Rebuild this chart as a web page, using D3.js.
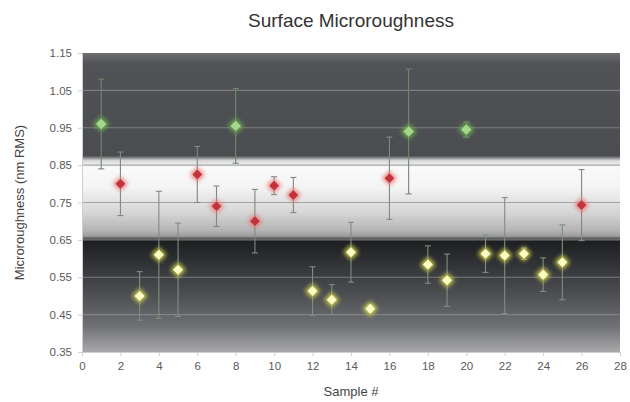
<!DOCTYPE html>
<html><head><meta charset="utf-8">
<script src="https://cdn.jsdelivr.net/npm/d3@7/dist/d3.min.js"></script>
<style>body{margin:0;background:#fff;}svg{display:block;font-family:"Liberation Sans",Arial,sans-serif;}</style>
</head><body><svg id="c" width="630" height="402"></svg>
<script>
const greenX=[1,8,17,20];
const greenY=[0.96,0.955,0.94,0.945];
const greenErr=[0.12,0.10,0.167,0.02];
const redX=[2,6,7,9,10,11,16,26];
const redY=[0.80,0.825,0.74,0.70,0.795,0.77,0.815,0.743];
const redErr=[0.085,0.075,0.054,0.085,0.024,0.047,0.11,0.095];
const yellowX=[3,4,5,12,13,14,15,18,19,21,22,23,24,25];
const yellowY=[0.50,0.61,0.57,0.513,0.49,0.617,0.466,0.584,0.542,0.613,0.608,0.613,0.557,0.59];
const yellowErr=[0.065,0.17,0.125,0.065,0.04,0.08,0.01,0.05,0.07,0.05,0.155,0.015,0.045,0.1];
const yTicks=[0.35,0.45,0.55,0.65,0.75,0.85,0.95,1.05,1.15];
const xTicks=[0,2,4,6,8,10,12,14,16,18,20,22,24,26,28];

const svg=d3.select("#c");
const L=82,R=620,T=53,B=352;
const x=d3.scaleLinear().domain([0,28]).range([L,R]);
const y=d3.scaleLinear().domain([0.35,1.15]).range([B,T]);
const defs=svg.append("defs");

// background gradient (vertical) defined in data-space stops
const bg=defs.append("linearGradient").attr("id","bg").attr("x1",0).attr("y1",0).attr("x2",0).attr("y2",1);
const H=B-T;
function st(v,c){bg.append("stop").attr("offset",((y(v)-T)/H)).attr("stop-color",c);}
st(1.15,"#6e6f71");st(1.12,"#505255");st(0.89,"#4b4d50");st(0.875,"#4a4c4f");st(0.862,"#d8d8d8");st(0.845,"#fafafa");
st(0.79,"#f4f4f4");st(0.72,"#d4d4d4");st(0.675,"#b4b4b4");st(0.66,"#9c9c9c");st(0.648,"#1c1e20");
st(0.6,"#2c2e31");st(0.5,"#4e5053");st(0.42,"#6e7073");st(0.35,"#a8a8aa");
svg.append("rect").attr("x",L).attr("y",T).attr("width",R-L).attr("height",H).attr("fill","url(#bg)");

// gridlines
svg.append("g").selectAll("line").data(yTicks.filter(v=>v>0.36&&v<1.14)).join("line")
 .attr("x1",L).attr("x2",R).attr("y1",d=>y(d)).attr("y2",d=>y(d))
 .attr("stroke","#8c8e90").attr("stroke-width",1.2).attr("opacity",0.75);

// axes
const ya=svg.append("g").attr("transform",`translate(${L},0)`)
 .call(d3.axisLeft(y).tickValues(yTicks).tickFormat(d3.format(".2f")).tickSize(4).tickPadding(6));
const xa=svg.append("g").attr("transform",`translate(0,${B})`)
 .call(d3.axisBottom(x).tickValues(xTicks).tickFormat(d3.format("d")).tickSize(4).tickPadding(6));
[ya,xa].forEach(a=>{a.select(".domain").attr("stroke","#cfcfcf");a.selectAll(".tick line").attr("stroke","#cfcfcf");
 a.selectAll("text").attr("fill","#5a5a5a").attr("font-size","11.5px");});

// glow filter
const f=defs.append("filter").attr("id","glow").attr("x","-100%").attr("y","-100%").attr("width","300%").attr("height","300%");
f.append("feGaussianBlur").attr("stdDeviation",2.2);

function series(xs,ys,es,col,halo,sz,errCol){
 const data=xs.map((d,i)=>({x:d,y:ys[i],e:es[i]}));
 const g=svg.append("g");
 g.selectAll("line.e").data(data).join("line").attr("x1",d=>x(d.x)).attr("x2",d=>x(d.x))
  .attr("y1",d=>y(d.y+d.e)).attr("y2",d=>y(d.y-d.e)).attr("stroke",errCol).attr("stroke-width",1.1);
 [1,-1].forEach(s=>g.selectAll("line.c"+s).data(data).join("line")
  .attr("x1",d=>x(d.x)-3).attr("x2",d=>x(d.x)+3).attr("y1",d=>y(d.y+s*d.e)).attr("y2",d=>y(d.y+s*d.e))
  .attr("stroke",errCol).attr("stroke-width",1.1));
 const sym=d3.symbol().type(d3.symbolDiamond2);
 g.selectAll("path.h").data(data).join("path").attr("transform",d=>`translate(${x(d.x)},${y(d.y)})`)
  .attr("d",sym.size(sz*2.4)()).attr("fill",halo).attr("filter","url(#glow)").attr("opacity",0.9);
 g.selectAll("path.m").data(data).join("path").attr("transform",d=>`translate(${x(d.x)},${y(d.y)})`)
  .attr("d",sym.size(sz)()).attr("fill",col);
}
series(greenX,greenY,greenErr,"#a6d68a","#6fae55",70,"#6f8a6a");
series(redX,redY,redErr,"#c2343c","#e87a7a",60,"#7d8a80");
series(yellowX,yellowY,yellowErr,"#fbfbc4","#d8d850",64,"#7e8f7c");

// titles
svg.append("text").attr("x",(L+R)/2).attr("y",27).attr("text-anchor","middle").attr("font-size","19px").attr("fill","#333").text("Surface Microroughness");
svg.append("text").attr("x",(L+R)/2).attr("y",396).attr("text-anchor","middle").attr("font-size","13px").attr("fill","#444").text("Sample #");
svg.append("text").attr("transform",`translate(24,${(T+B)/2}) rotate(-90)`).attr("text-anchor","middle").attr("font-size","13px").attr("fill","#444").text("Microroughness (nm RMS)");
</script></body></html>
